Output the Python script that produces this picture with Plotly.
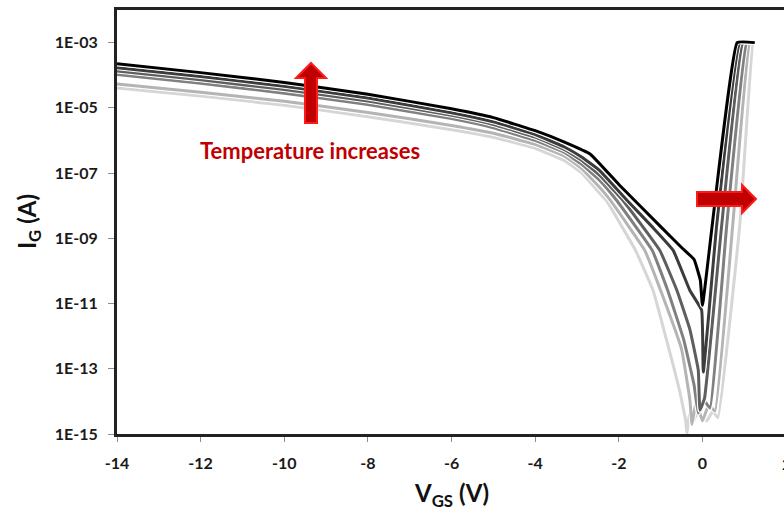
import plotly.graph_objects as go

# Gate-voltage sweeps (V) and log10 of the gate current (A), one pair per
# temperature, ordered from the coldest (lightest trace) to the hottest (black).
vgs_t1 = [-14, -12, -10, -8, -6, -5, -4, -3.3, -2.9, -2.45, -2.3, -1.6, -1.18, -0.8,
          -0.55, -0.45, -0.4, -0.37, -0.32, -0.25, -0.1, 0.1, 0.25, 0.37, 0.895, 1.21, 1.25]
log_ig_t1 = [-4.39, -4.64, -4.92, -5.27, -5.67, -5.90, -6.24, -6.62, -6.98, -7.63, -7.84, -9.37,
             -10.6, -12.4, -13.65, -14.27, -14.6, -15.0, -14.4, -14.7, -14.3, -14.6, -14.3,
             -14.5, -8.55, -3.0, -3.0]

vgs_t2 = [-14, -12, -10, -8, -6, -5, -4, -3.3, -2.9, -2.45, -2.2, -1.38, -1.0, -0.5, -0.3,
          -0.25, -0.15, 0.0, 0.15, 0.3, 0.727, 1.13, 1.25]
log_ig_t2 = [-4.27, -4.52, -4.80, -5.14, -5.54, -5.78, -6.12, -6.48, -6.85, -7.45, -7.84, -9.37,
             -10.6, -12.4, -13.96, -14.7, -14.0, -14.6, -14.1, -14.3, -8.55, -3.0, -3.0]

vgs_t3 = [-14, -12, -10, -8, -6, -5, -4, -3.3, -2.9, -2.45, -2.05, -1.2, -0.83, -0.45, -0.2,
          -0.1, 0.05, 0.18, 0.584, 1.06, 1.25]
log_ig_t3 = [-3.98, -4.25, -4.55, -4.90, -5.33, -5.61, -6.0, -6.37, -6.72, -7.23, -7.84, -9.37,
             -10.6, -12.1, -13.5, -14.36, -14.0, -14.2, -8.55, -3.0, -3.0]

vgs_t4 = [-14, -12, -10, -8, -6, -5, -4, -3.3, -2.9, -2.45, -1.9, -1.02, -0.61, -0.3, -0.1,
          -0.06, 0.05, 0.464, 0.967, 1.25]
log_ig_t4 = [-3.87, -4.14, -4.44, -4.79, -5.23, -5.51, -5.90, -6.28, -6.6, -7.08, -7.84, -9.37,
             -10.6, -11.8, -13.04, -14.27, -13.9, -8.55, -3.0, -3.0]

vgs_t5 = [-14, -12, -10, -8, -6, -5, -4, -3.3, -2.9, -2.45, -1.8, -1.2, -0.7, -0.3, -0.02,
          0.02, 0.344, 0.895, 1.25]
log_ig_t5 = [-3.77, -4.04, -4.34, -4.70, -5.15, -5.43, -5.82, -6.2, -6.5, -6.93, -7.84, -8.65,
             -9.37, -10.6, -11.2, -13.1, -8.55, -3.0, -3.0]

vgs_t6 = [-14, -12, -10, -8, -6, -5, -4, -3.3, -2.68, -2.0, -1.0, -0.5, -0.2, -0.05, 0.0,
          0.83, 1.25]
log_ig_t6 = [-3.65, -3.92, -4.22, -4.58, -5.03, -5.30, -5.70, -6.05, -6.42, -7.35, -8.64, -9.28,
             -9.65, -10.29, -11.05, -3.0, -3.0]

series = [(vgs_t1, log_ig_t1), (vgs_t2, log_ig_t2), (vgs_t3, log_ig_t3),
          (vgs_t4, log_ig_t4), (vgs_t5, log_ig_t5), (vgs_t6, log_ig_t6)]
colors = ["#d6d6d6", "#b4b4b4", "#808080", "#5e5e5e", "#3c3c3c", "#000000"]

x_ticks = [-14, -12, -10, -8, -6, -4, -2, 0]
y_tick_exps = [-15, -13, -11, -9, -7, -5, -3]
y_tick_text = ["1E-15", "1E-13", "1E-11", "1E-09", "1E-07", "1E-05", "1E-03"]

FONT = "Lato"
W, H = 784, 511
L, R, T, B = 117, 0, 10, 77
PW, PH = W - L - R, H - T - B


def paper(x, y):
    """Figure pixel position -> paper fraction."""
    return (x - L) / PW, (H - B - y) / PH


def path(points):
    pts = [paper(x, y) for x, y in points]
    return "M " + " L ".join(f"{a:.5f},{b:.5f}" for a, b in pts) + " Z"


fig = go.Figure()
for (v, lg), col in zip(series, colors):
    ig = [10 ** e for e in lg]
    fig.add_trace(go.Scatter(x=v, y=ig, mode="lines",
                             line=dict(color="white", width=5, shape="spline", smoothing=0.3),
                             hoverinfo="skip", showlegend=False))
    fig.add_trace(go.Scatter(x=v, y=ig, mode="lines",
                             line=dict(color=col, width=3, shape="spline", smoothing=0.3),
                             showlegend=False))

tickfont = dict(family=FONT, size=16, color="#1a1a1a", weight="bold")

fig.update_layout(
    width=W, height=H,
    margin=dict(l=L, r=R, t=T, b=B, pad=0),
    paper_bgcolor="white", plot_bgcolor="white",
    showlegend=False,
    xaxis=dict(range=[-14, 1.95], tickvals=x_ticks, ticktext=[str(t) for t in x_ticks],
               showgrid=False, zeroline=False,
               showline=True, linewidth=3, linecolor="#222222", mirror=True,
               ticks="outside", ticklen=5, tickwidth=1, tickcolor="#8c8c8c",
               tickfont=tickfont, ticklabelstandoff=8),
    yaxis=dict(type="log", range=[-15, -2],
               tickvals=[10 ** e for e in y_tick_exps], ticktext=y_tick_text,
               showgrid=False, zeroline=False,
               showline=True, linewidth=3, linecolor="#222222",
               ticks="outside", ticklen=6, tickwidth=1, tickcolor="#8c8c8c",
               tickfont=tickfont, ticklabelstandoff=7),
)

red_fill, red_edge = "#c00000", "#ff1a1a"
fig.add_shape(type="path", xref="paper", yref="paper", layer="above",
              path=path([(311, 63), (326, 78), (317, 78), (317, 123), (305, 123),
                         (305, 78), (296, 78)]),
              fillcolor=red_fill, line=dict(color=red_edge, width=2))
fig.add_shape(type="path", xref="paper", yref="paper", layer="above",
              path=path([(756, 199), (742, 185), (742, 192), (697, 192), (697, 206),
                         (742, 206), (742, 213)]),
              fillcolor=red_fill, line=dict(color=red_edge, width=2))


def label(text, x, y, font, angle=0):
    px_, py_ = paper(x, y)
    fig.add_annotation(xref="paper", yref="paper", x=px_, y=py_, showarrow=False,
                       xanchor="center", yanchor="middle", textangle=angle,
                       text=text, font=font)


label("Temperature increases", 310, 150,
      dict(family=FONT, size=22, color="#c00000", weight="bold"))
label("I<sub>G</sub> (A)", 28, 222,
      dict(family=FONT, size=24, color="#111111", weight="bold"), angle=-90)
label("V<sub>GS</sub> (V)", 451, 494,
      dict(family=FONT, size=24, color="#111111", weight="bold"))
# tick label for +2 V sits right at the edge of the plotting area
label("2", 786, 463, tickfont)

fig.write_html("out.html")
